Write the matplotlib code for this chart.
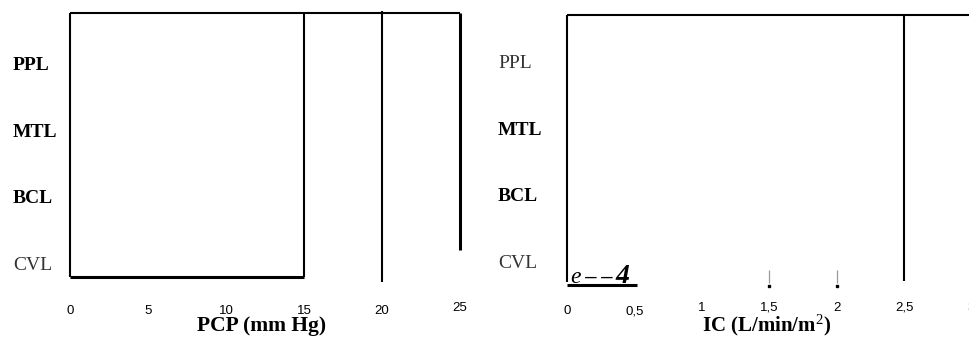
import matplotlib
matplotlib.use("Agg")
import matplotlib.pyplot as plt

plt.rcParams['mathtext.fontset'] = 'custom'
plt.rcParams['mathtext.rm'] = 'Liberation Serif'
plt.rcParams['mathtext.it'] = 'Liberation Serif:italic'
plt.rcParams['mathtext.bf'] = 'Liberation Serif:bold'

# ---------------- data ----------------
row_labels = ['CVL', 'BCL', 'MTL', 'PPL']          # bottom -> top
left_bold = [False, True, True, True]
right_bold = [False, True, True, False]

left_ticks = [0, 5, 10, 15, 20, 25]
left_tick_labels = ['0', '5', '10', '15', '20', '25']
right_ticks = [0, 0.5, 1, 1.5, 2, 2.5, 3]
right_tick_labels = ['0', '0,5', '1', '1,5', '2', '2,5', '3']

left_xlabel = 'PCP (mm Hg)'
right_xlabel = 'IC (L/min/m$^{2}$)'

# left panel segments (PCP values)
left_box_x = [0, 15]
left_top_x = [0, 25]
left_extra_x = [20, 25]
# right panel (IC values)
right_top_x = [0, 3.2]
right_vert_x = [0, 2.5]
right_marks_x = [1.5, 2]
right_under_x = [0, 0.52]
# ---------------------------------------

W, H = 969, 337
fig = plt.figure(figsize=(W / 100, H / 100), dpi=100)
fig.patch.set_facecolor('white')

SERIF = 'Liberation Serif'
SANS = 'Liberation Sans'
LW = 1.5
LWT = 2.2

def mk_axes(px0, px1, x0px, sx, y0px, sy):
    ax = fig.add_axes([px0 / W, 0, (px1 - px0) / W, 1])
    ax.set_xlim((px0 - x0px) / sx, (px1 - x0px) / sx)
    ax.set_ylim((y0px - H) / sy, y0px / sy)
    ax.axis('off')
    return ax

# left axes: x=0 at px 70, 15.6 px/unit ; row baseline CVL at py 270, 66.67 px/row
axL = mk_axes(0, 484, 70, 15.6, 270, 66.67)
# right axes: x=0 at px 567, 134.8 px/unit ; CVL baseline at py 268
axR = mk_axes(484, 969, 567, 134.8, 268, 66.67)

def py_to_y(py, y0px):
    return (y0px - py) / 66.67

# ---- left panel lines ----
yt = py_to_y(13, 270)
yb = py_to_y(277, 270)
axL.plot(left_top_x, [yt, yt], color='black', lw=LW, solid_capstyle='butt')
axL.plot(left_box_x, [yb, yb], color='black', lw=LWT, solid_capstyle='butt')
for xv in left_box_x:
    axL.plot([xv, xv], [yb, yt], color='black', lw=LW, solid_capstyle='butt')
axL.plot([left_extra_x[0]] * 2, [py_to_y(282, 270), py_to_y(11, 270)], color='black', lw=LW, solid_capstyle='butt')
axL.plot([left_extra_x[1]] * 2, [py_to_y(250, 270), yt], color='black', lw=LWT, solid_capstyle='butt')

# ---- left labels ----
for i, (lab, b) in enumerate(zip(row_labels, left_bold)):
    axL.text((13 - 70) / 15.6, i, lab, fontsize=14, family=SERIF,
             fontweight='bold' if b else 'normal',
             color='black' if b else '#333333', ha='left', va='baseline')
left_dy = [0, 0, 0, 0, 0, 3]
for xv, lab, dy in zip(left_ticks, left_tick_labels, left_dy):
    axL.text(xv, py_to_y(314 - dy, 270), lab, fontsize=9.5, family=SANS,
             ha='center', va='baseline', color='black')
axL.text(12.3, py_to_y(331.5, 270), left_xlabel, fontsize=15.5, family=SERIF,
         fontweight='bold', ha='center', va='baseline')

# ---- right panel lines ----
ytr = py_to_y(15, 268)
axR.plot(right_top_x, [ytr, ytr], color='black', lw=LW, solid_capstyle='butt', clip_on=True)
axR.plot([right_vert_x[0]] * 2, [py_to_y(282, 268), ytr], color='black', lw=LW, solid_capstyle='butt')
axR.plot([right_vert_x[1]] * 2, [py_to_y(281, 268), ytr], color='black', lw=LW, solid_capstyle='butt')
axR.plot(right_under_x, [py_to_y(285, 268)] * 2, color='black', lw=LWT, solid_capstyle='butt')
for xv in right_marks_x:
    axR.plot([xv, xv], [py_to_y(283, 268), py_to_y(270, 268)], color='#999999', lw=0.9,
             solid_capstyle='butt')
    axR.plot([xv], [py_to_y(286, 268)], marker='s', markersize=2.0, color='black', lw=0)

# "e--4" annotation
axR.text((570 - 567) / 134.8, py_to_y(283, 268), 'e', fontsize=17, family=SERIF,
         style='italic', ha='left', va='baseline')
for dpx in (584, 600):
    axR.text((dpx - 567) / 134.8, py_to_y(283, 268), '\u2013', fontsize=15, family=SANS,
             style='italic', ha='left', va='baseline')
axR.text((615 - 567) / 134.8, py_to_y(283, 268), '4', fontsize=20, family=SERIF,
         style='italic', fontweight='bold', ha='left', va='baseline')

for i, (lab, b) in enumerate(zip(row_labels, right_bold)):
    axR.text((498 - 567) / 134.8, i, lab, fontsize=14, family=SERIF,
             fontweight='bold' if b else 'normal',
             color='black' if b else '#333333', ha='left', va='baseline')
right_dy = [0, 0, 3, 4, 3, 3, 3]
for xv, lab, dy in zip(right_ticks, right_tick_labels, right_dy):
    axR.text(xv, py_to_y(314 - dy, 268), lab, fontsize=9.5, family=SANS,
             ha='center', va='baseline', color='black')
axR.text(1.48, py_to_y(331, 268), right_xlabel, fontsize=15, family=SERIF,
         fontweight='bold', ha='center', va='baseline')

fig.savefig('out.png', dpi=100, facecolor='white')
